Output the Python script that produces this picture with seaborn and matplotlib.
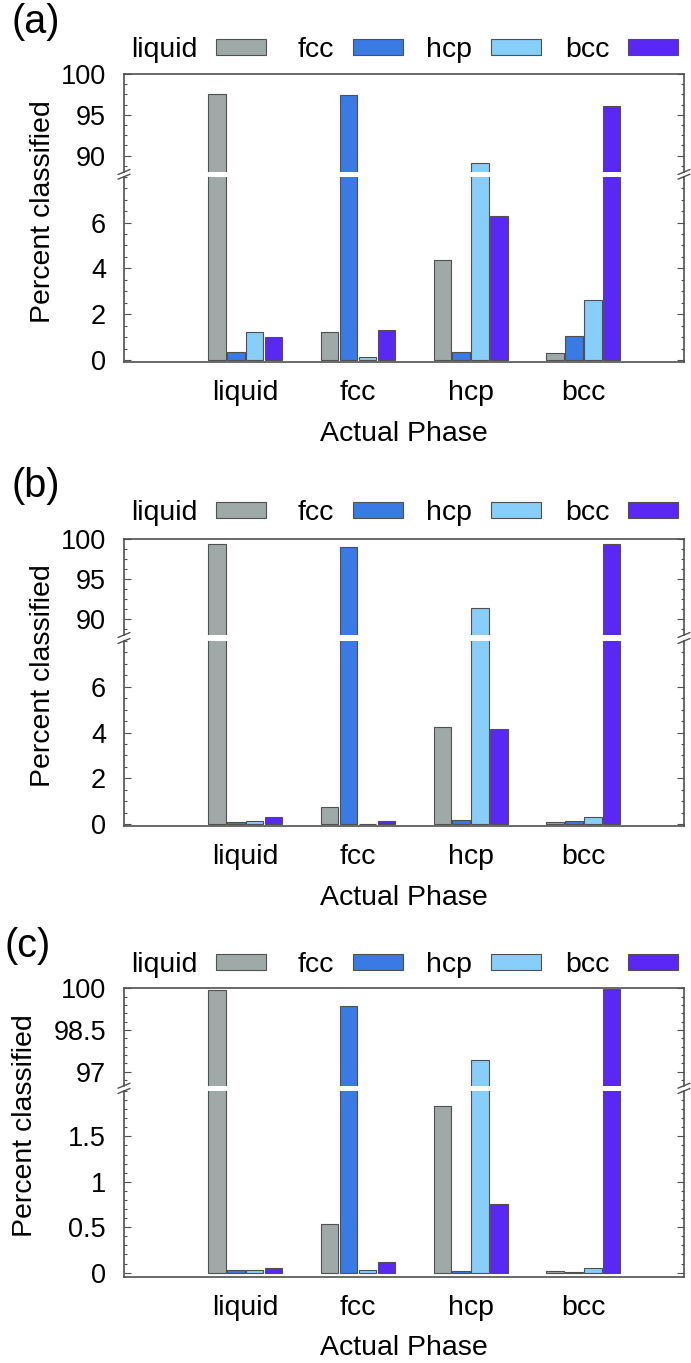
import matplotlib
matplotlib.use('Agg')
import matplotlib.pyplot as plt
from matplotlib.lines import Line2D
from matplotlib.ticker import AutoMinorLocator, FixedLocator, FormatStrFormatter
import pandas as pd
import seaborn as sns

phases = ['liquid', 'fcc', 'hcp', 'bcc']
colors = ['#9fa9a8', '#3a7ae4', '#87cefa', '#5a28f5']

# rows: actual phase, columns: predicted class (percent)
pct_a = [[97.5, 0.33, 1.23, 1.01],
         [1.23, 97.4, 0.14, 1.29],
         [4.36, 0.36, 89.1, 6.28],
         [0.30, 1.04, 2.62, 96.1]]
pct_b = [[99.3, 0.09, 0.16, 0.33],
         [0.77, 99.0, 0.01, 0.13],
         [4.26, 0.19, 91.4, 4.17],
         [0.09, 0.12, 0.33, 99.3]]
pct_c = [[99.94, 0.026, 0.033, 0.055],
         [0.54, 99.37, 0.033, 0.117],
         [1.84, 0.022, 97.41, 0.755],
         [0.022, 0.004, 0.055, 99.97]]

top_ticks_ab = [90, 95, 100]
low_ticks_ab = [0, 2, 4, 6]
top_ticks_c = [97, 98.5, 100]
low_ticks_c = [0, 0.5, 1, 1.5]

W, H = 691, 1363
EDGE = '#505050'

sns.set_theme(style='white')
plt.rcParams['font.family'] = ['Liberation Sans', 'DejaVu Sans']
plt.rcParams['text.color'] = 'black'

fig = plt.figure(figsize=(W / 100, H / 100), dpi=100)


def rect(y0, y1, x0=124, x1=684):
    return [x0 / W, 1 - y1 / H, (x1 - x0) / W, (y1 - y0) / H]


def fx(x):
    return x / W


def fy(y):
    return 1 - y / H


panels = [
    dict(data=pct_a, label='(a)', lab_xy=(36, 22), top=(74, 172), low=(176.7, 362.3),
         top_lim=(88, 100), low_lim=(-0.1, 8), top_ticks=top_ticks_ab, low_ticks=low_ticks_ab,
         top_minor=4, low_minor=4, leg_y=50, xlab_y=434, ylab_x=43),
    dict(data=pct_b, label='(b)', lab_xy=(36, 486), top=(538.7, 635), low=(641, 826),
         top_lim=(88, 100), low_lim=(-0.08, 8), top_ticks=top_ticks_ab, low_ticks=low_ticks_ab,
         top_minor=4, low_minor=4, leg_y=513, xlab_y=898, ylab_x=43),
    dict(data=pct_c, label='(c)', lab_xy=(28, 946), top=(988.3, 1085.7), low=(1091, 1276.7),
         top_lim=(96.5, 100), low_lim=(-0.045, 2.0), top_ticks=top_ticks_c, low_ticks=low_ticks_c,
         top_minor=5, low_minor=5, leg_y=965, xlab_y=1348, ylab_x=25),
]

legend_right = [266, 403, 541, 678]

for p in panels:
    rows = []
    for i, actual in enumerate(phases):
        for j, pred in enumerate(phases):
            rows.append({'actual': actual, 'pred': pred, 'pct': p['data'][i][j]})
    df = pd.DataFrame(rows)

    ax_top = fig.add_axes(rect(*p['top']))
    ax_low = fig.add_axes(rect(*p['low']))

    handles = None
    for ax, lim, ticks, nminor in [(ax_top, p['top_lim'], p['top_ticks'], p['top_minor']),
                                   (ax_low, p['low_lim'], p['low_ticks'], p['low_minor'])]:
        sns.barplot(data=df, x='actual', y='pct', hue='pred', order=phases, hue_order=phases,
                    palette=colors, saturation=1, width=0.672, gap=0.08, errorbar=None,
                    edgecolor=EDGE, linewidth=0.8, ax=ax, legend=(ax is ax_top))
        if ax is ax_top:
            leg = ax.get_legend()
            handles = leg.legend_handles
            leg.remove()
        ax.set_xlim(-1.076, 3.893)
        ax.set_ylim(*lim)
        ax.set_xlabel('')
        ax.set_ylabel('')
        ax.yaxis.set_major_locator(FixedLocator(ticks))
        ax.yaxis.set_major_formatter(FormatStrFormatter('%g'))
        ax.yaxis.set_minor_locator(AutoMinorLocator(nminor))
        ax.tick_params(axis='y', which='both', direction='in', left=True, right=True,
                       color=EDGE, labelcolor='black', labelsize=19.5, pad=13)
        ax.tick_params(axis='y', which='major', length=4.8, width=0.8)
        ax.tick_params(axis='y', which='minor', length=2.4, width=0.8)
        for s in ax.spines.values():
            s.set_color(EDGE)
            s.set_linewidth(1.2)

    ax_top.spines['bottom'].set_visible(False)
    ax_top.tick_params(axis='x', bottom=False, labelbottom=False)
    ax_low.spines['top'].set_visible(False)
    ax_low.tick_params(axis='x', bottom=False, labelsize=20.5, labelcolor='black', pad=7)

    # break marks
    for x in (124, 684):
        for y in (p['top'][1], p['low'][0]):
            fig.add_artist(Line2D([fx(x - 6), fx(x + 6)], [fy(y + 2.5), fy(y - 2.5)],
                                  color=EDGE, lw=1.0))

    # legend: label then key, right aligned slots
    for h, lab, xr in zip(handles, phases, legend_right):
        fig.legend([h], [lab], loc='center right', bbox_to_anchor=(fx(xr), fy(p['leg_y'])),
                   frameon=False, markerfirst=False, handlelength=1.77, handleheight=0.49,
                   handletextpad=0.65, borderpad=0, borderaxespad=0, fontsize=20.5,
                   labelcolor='black')

    fig.text(fx(p['lab_xy'][0]), fy(p['lab_xy'][1]), p['label'], fontsize=28.5,
             ha='center', va='center', color='black')
    fig.text(fx(404), fy(p['xlab_y']), 'Actual Phase', fontsize=20.5, ha='center',
             va='center', color='black')
    ymid = (p['top'][0] + p['low'][1]) / 2 - 7
    fig.text(fx(p['ylab_x']), fy(ymid), 'Percent classified', fontsize=20.5,
             rotation=90, ha='center', va='center', color='black')

fig.savefig('out.png', dpi=100)
